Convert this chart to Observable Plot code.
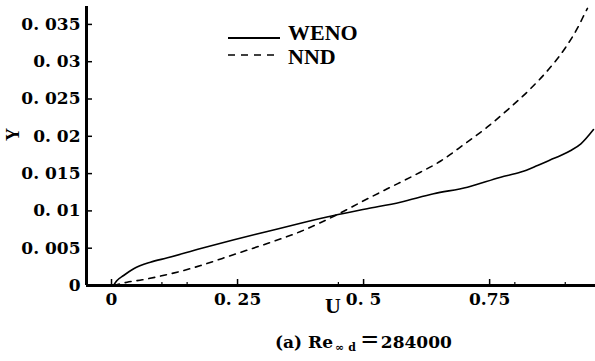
<!DOCTYPE html>
<html>
<head>
<meta charset="utf-8">
<script src="https://cdn.jsdelivr.net/npm/d3@7"></script>
<script src="https://cdn.jsdelivr.net/npm/@observablehq/plot@0.6"></script>
<style>
  html, body { margin: 0; padding: 0; background: #fff; }
  #wrap { position: relative; width: 595px; height: 361px; overflow: hidden; background: #fff; }
  #legend { position: absolute; left: 0; top: 0; width: 595px; height: 80px; pointer-events: none; }
  #legend .txt { position: absolute; left: 288px; font-family: "Liberation Serif", serif; font-weight: bold; font-size: 22px; line-height: 22px; color: #000; white-space: nowrap; }
  #legend svg { position: absolute; left: 228px; }
  #caption { position: absolute; left: 275px; top: 331px; font-family: "DejaVu Serif", serif; font-weight: bold; font-size: 17px; line-height: 18px; color: #000; white-space: nowrap; }
  #caption sub { font-size: 11px; vertical-align: -3px; letter-spacing: 4px; margin-left: 2px; }
  #caption .eq { font-family: "Noto Sans CJK SC", sans-serif; font-size: 20px; margin-right: 1px; }
</style>
</head>
<body>
<div id="wrap">
  <div id="chart"></div>
  <div id="legend"></div>
  <div id="caption"></div>
</div>
<script>
// ---- data ----
const wenoU = [0.004, 0.010, 0.024, 0.044, 0.077, 0.111, 0.177, 0.243, 0.309, 0.375, 0.441, 0.507, 0.573, 0.639, 0.706, 0.772, 0.812, 0.845, 0.871, 0.891, 0.911, 0.931, 0.956];
const wenoY = [0, 0.0006, 0.00134, 0.00224, 0.00312, 0.00371, 0.00496, 0.00613, 0.00724, 0.00835, 0.00938, 0.01028, 0.01117, 0.01229, 0.01318, 0.01452, 0.01520, 0.01609, 0.01685, 0.01743, 0.01810, 0.01899, 0.02090];

const nndU = [0.004, 0.031, 0.061, 0.087, 0.117, 0.143, 0.177, 0.243, 0.309, 0.375, 0.448, 0.501, 0.547, 0.600, 0.653, 0.699, 0.745, 0.788, 0.831, 0.868, 0.901, 0.927, 0.940, 0.944];
const nndY = [0, 0.00044, 0.00076, 0.00111, 0.00157, 0.00201, 0.00268, 0.00416, 0.00563, 0.00724, 0.00952, 0.01139, 0.01296, 0.01475, 0.01669, 0.01890, 0.02122, 0.02369, 0.02637, 0.02905, 0.03194, 0.03485, 0.03664, 0.03715];

const seriesNames = ["WENO", "NND"];

const xTicks = [0, 0.25, 0.5, 0.75];
const xTickLabels = ["0", "0. 25", "0. 5", "0.75"];
const xMinorTicks = [0.1, 0.15, 0.45, 0.8, 0.9];
const yTicks = [0, 0.005, 0.01, 0.015, 0.02, 0.025, 0.03, 0.035];
const yTickLabels = ["0", "0. 005", "0. 01", "0. 015", "0. 02", "0. 025", "0. 03", "0. 035"];
const xDomain = [-0.0496, 0.96];
const yDomain = [0, 0.0374];
const xLabel = "U";
const yLabel = "Y";
const captionPrefix = "(a) Re";
const captionSub = "∞d";
const captionEq = "＝";
const captionValue = "284000";

// ---- build ----
const weno = wenoU.map((u, i) => ({u, y: wenoY[i]}));
const nnd = nndU.map((u, i) => ({u, y: nndY[i]}));
const xLabelMap = new Map(xTicks.map((t, i) => [t, xTickLabels[i]]));
const yLabelMap = new Map(yTicks.map((t, i) => [t, yTickLabels[i]]));
const serifBold = {fontFamily: "Liberation Serif", fontWeight: "bold"};

const chart = Plot.plot({
  width: 595,
  height: 320,
  marginLeft: 86,
  marginRight: 0,
  marginTop: 6,
  marginBottom: 35,
  x: {domain: xDomain},
  y: {domain: yDomain},
  style: {fontFamily: "DejaVu Serif", fontSize: "17px", fontWeight: "bold", background: "#fff", color: "#000"},
  marks: [
    Plot.axisY({ticks: yTicks, tickFormat: d => yLabelMap.get(d), tickSize: 0, tickPadding: 6, label: null}),
    Plot.axisY({ticks: yTicks, tickFormat: () => "", tickSize: -6, strokeWidth: 1.5, label: null}),
    Plot.axisX({ticks: xTicks, tickFormat: d => xLabelMap.get(d), tickSize: 0, tickPadding: 7, label: null}),
    Plot.axisX({ticks: xTicks, tickFormat: () => "", tickSize: -6, strokeWidth: 1.5, label: null}),
    Plot.axisX({ticks: xMinorTicks, tickFormat: () => "", tickSize: -3, strokeWidth: 1.2, label: null}),
    Plot.ruleY([yDomain[0]], {stroke: "#000", strokeWidth: 3}),
    Plot.ruleX([xDomain[0]], {stroke: "#000", strokeWidth: 3}),
    Plot.line(weno, {x: "u", y: "y", stroke: "#000", strokeWidth: 1.6, curve: "monotone-x"}),
    Plot.line(nnd, {x: "u", y: "y", stroke: "#000", strokeWidth: 1.6, strokeDasharray: "6,6", curve: "monotone-x"}),
    Plot.text([xLabel], {text: d => d, frameAnchor: "bottom", dx: -8, dy: 27, fontSize: 22, ...serifBold}),
    Plot.text([yLabel], {text: d => d, frameAnchor: "left", dx: -73, dy: -5, rotate: -90, fontSize: 18, ...serifBold})
  ]
});
document.getElementById("chart").appendChild(chart);

// legend (inside the plot area, upper left)
const legend = d3.select("#legend");
const legTextTop = [22, 46];
const legLineY = [38, 55];
seriesNames.forEach((name, i) => {
  legend.append("svg").attr("width", 52).attr("height", 6).style("top", (legLineY[i] - 3) + "px")
    .append("line").attr("x1", 0).attr("x2", 52).attr("y1", 3).attr("y2", 3)
    .attr("stroke", "#000").attr("stroke-width", i === 0 ? 1.8 : 1.6)
    .attr("stroke-dasharray", i === 0 ? null : "7,6");
  legend.append("div").attr("class", "txt").style("top", legTextTop[i] + "px").text(name);
});

// caption
const cap = d3.select("#caption");
cap.append("span").text(captionPrefix);
cap.append("sub").text(captionSub);
cap.append("span").attr("class", "eq").text(captionEq);
cap.append("span").text(captionValue);
</script>
</body>
</html>
